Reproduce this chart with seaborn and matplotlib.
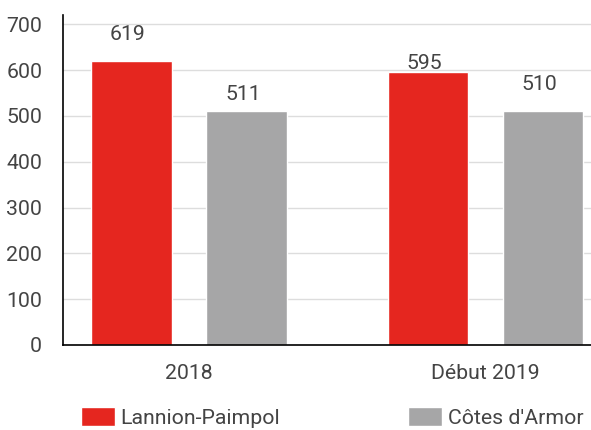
import matplotlib
matplotlib.use("Agg")
import matplotlib.pyplot as plt
import seaborn as sns
import pandas as pd

categories = ["2018", "Début 2019"]
series_names = ["Lannion-Paimpol", "Côtes d'Armor"]
lannion = [619, 595]
cotes = [511, 510]
y_ticks = [0, 100, 200, 300, 400, 500, 600, 700]
colors = ["#e5261f", "#a6a6a7"]

df = pd.DataFrame({
    "cat": categories * 2,
    "serie": [series_names[0]] * 2 + [series_names[1]] * 2,
    "val": lannion + cotes,
})

sns.set_theme(style="white")
plt.rcParams["font.family"] = ["Roboto", "DejaVu Sans"]
FS = 15.3
TXT = "#444444"

fig = plt.figure(figsize=(5.91, 4.30), dpi=100)
W, H = 591, 430
ax = fig.add_axes([63 / W, (H - 345) / H, (591 - 63) / W, (345 - 15) / H])

sns.barplot(data=df, x="cat", y="val", hue="serie", order=categories,
            hue_order=series_names, palette=colors, width=0.777, gap=0.3,
            saturation=1, ax=ax, legend=True)

ax.set_ylim(0, 720)
ax.set_xlim(-0.426, 1.356)
ax.set_yticks(y_ticks)
ax.yaxis.grid(True, color="#dddddd", linewidth=1)
ax.set_axisbelow(True)
for s in ["top", "right"]:
    ax.spines[s].set_visible(False)
for s in ["left", "bottom"]:
    ax.spines[s].set_color("black")
    ax.spines[s].set_linewidth(1.2)
ax.set_xlabel("")
ax.set_ylabel("")
ax.tick_params(axis="both", length=0, labelsize=FS, labelcolor=TXT)
ax.tick_params(axis="y", pad=15)
ax.tick_params(axis="x", pad=14)

handles, labels = ax.get_legend_handles_labels()
if ax.get_legend() is not None:
    ax.get_legend().remove()

# value labels (bars drawn by seaborn)
bars = [p for p in ax.patches if p.get_height() > 0 and p.get_width() < 1]
bars.sort(key=lambda p: p.get_x())
lift = [17, 7, -1, 17]  # px gap above each bar, left to right
for k, bar in enumerate(bars):
    v = bar.get_height()
    ax.annotate(f"{int(round(v))}", (bar.get_x() + bar.get_width() / 2, v),
                xytext=(-4, lift[k % len(lift)]), textcoords="offset pixels",
                ha="center", va="bottom", fontsize=FS, color=TXT)

fig.legend(handles, labels, loc="lower center", bbox_to_anchor=(332 / W, -17 / H),
           ncol=2, frameon=False, fontsize=FS, handlelength=1.6,
           handleheight=1.0, handletextpad=0.25, columnspacing=6.05,
           labelcolor=TXT)

fig.savefig("out.png", dpi=100)
